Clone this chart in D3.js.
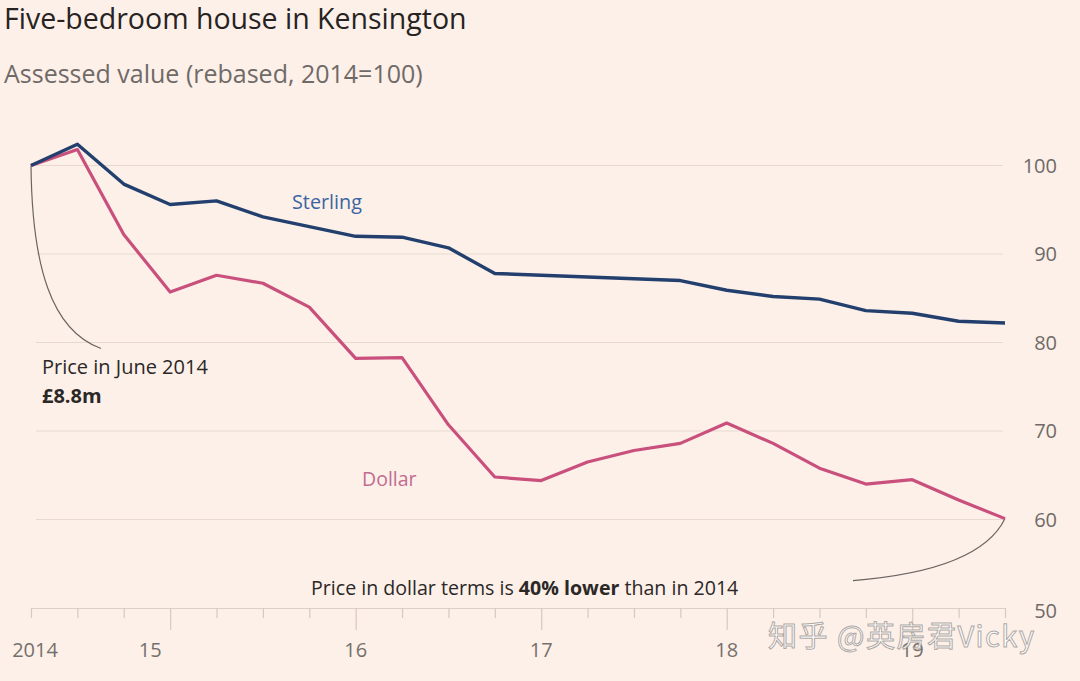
<!DOCTYPE html>
<html>
<head>
<meta charset="utf-8">
<script src="https://cdn.jsdelivr.net/npm/d3@7"></script>
<style>
  html, body { margin: 0; padding: 0; background: #fdf0e9; }
  svg { display: block; font-family: "Open Sans", "Noto Sans", sans-serif; }
</style>
</head>
<body>
<script>
var w = 1080;
var h = 681;

// quarterly assessments, June 2014 onwards
var quarters = ["2014Q2", "2014Q3", "2014Q4", "2015Q1", "2015Q2", "2015Q3", "2015Q4",
    "2016Q1", "2016Q2", "2016Q3", "2016Q4", "2017Q1", "2017Q2", "2017Q3", "2017Q4",
    "2018Q1", "2018Q2", "2018Q3", "2018Q4", "2019Q1", "2019Q2", "2019Q3"];
var sterling = [100, 102.4, 97.9, 95.6, 96.0, 94.2, 93.1, 92.0, 91.9, 90.7, 87.8,
    87.6, 87.4, 87.2, 87.0, 85.9, 85.2, 84.9, 83.6, 83.3, 82.4, 82.2];
var dollar = [100, 101.8, 92.2, 85.7, 87.6, 86.7, 84.0, 78.2, 78.3, 70.7, 64.8,
    64.4, 66.5, 67.8, 68.6, 70.9, 68.6, 65.8, 64.0, 64.5, 62.2, 60.1];
var yTicks = [50, 60, 70, 80, 90, 100];
var yearLabels = ["2014", "15", "16", "17", "18", "19"];
var yearTicks = ["2014Q2", "2015Q1", "2016Q1", "2017Q1", "2018Q1", "2019Q1"];

function qNum(q) {
    return +q.slice(0, 4) + (+q.slice(5) - 1) / 4;
}

var svg = d3.select("body")
    .append("svg")
    .attr("width", w)
    .attr("height", h);

var x = d3.scaleLinear()
    .domain([qNum(quarters[0]), qNum(quarters[quarters.length - 1])])
    .range([31, 1005]);

var y = d3.scaleLinear()
    .domain([50, 100])
    .range([608, 165.5]);

// titles
svg.append("text")
    .attr("x", 4)
    .attr("y", 29)
    .attr("font-size", 28.5)
    .attr("fill", "#262322")
    .text("Five-bedroom house in Kensington");

svg.append("text")
    .attr("x", 4)
    .attr("y", 83)
    .attr("font-size", 25)
    .attr("fill", "#6f6a67")
    .text("Assessed value (rebased, 2014=100)");

// gridlines
svg.selectAll("line.grid")
    .data(yTicks.filter(function (d) { return d > 50; }))
    .enter()
    .append("line")
    .attr("class", "grid")
    .attr("x1", 36)
    .attr("x2", 1003)
    .attr("y1", function (d) { return y(d); })
    .attr("y2", function (d) { return y(d); })
    .attr("stroke", "#e8d9d0")
    .attr("stroke-width", 1.2);

svg.selectAll("text.ylab")
    .data(yTicks)
    .enter()
    .append("text")
    .attr("class", "ylab")
    .attr("x", 1057)
    .attr("y", function (d) { return y(d); })
    .attr("dy", function (d) { return d === 50 ? "0.5em" : "0.36em"; })
    .attr("text-anchor", "end")
    .attr("font-size", 20)
    .attr("fill", "#6f6a67")
    .text(function (d) { return d; });

// bottom axis, one tick per quarter, longer at each year
var xAxis = d3.axisBottom(x)
    .tickValues(quarters.map(qNum))
    .tickSize(10)
    .tickSizeOuter(0)
    .tickFormat("");

var gx = svg.append("g")
    .attr("transform", "translate(0," + y(50) + ")")
    .call(xAxis);

gx.select(".domain").attr("stroke", "#ddd0c7").attr("stroke-width", 1.2);
gx.selectAll(".tick line")
    .attr("stroke", "#d6c9c0")
    .attr("stroke-width", 1.2)
    .attr("y2", function (d) {
        return (d % 1 === 0) ? 22 : 10;
    });

svg.selectAll("text.xlab")
    .data(yearLabels)
    .enter()
    .append("text")
    .attr("class", "xlab")
    .attr("x", function (d, i) {
        var px = x(qNum(yearTicks[i]));
        if (d === "2014") px += 4;
        if (d === "15") px -= 20;
        return px;
    })
    .attr("y", 657)
    .attr("text-anchor", "middle")
    .attr("font-size", 20)
    .attr("fill", "#75706c")
    .text(function (d) { return d; });

// annotation curves
var p0 = [x(qNum(quarters[0])), y(dollar[0])];
var pe = [x(qNum(quarters[quarters.length - 1])), y(dollar[dollar.length - 1])];

svg.append("path")
    .attr("d", "M" + p0[0] + "," + p0[1] + " C" + (p0[0] + 1) + "," + (p0[1] + 100) +
        " " + (p0[0] + 20) + "," + (p0[1] + 165) + " " + (p0[0] + 70) + "," + (p0[1] + 183))
    .attr("fill", "none")
    .attr("stroke", "#6b6562")
    .attr("stroke-width", 1.2);

svg.append("path")
    .attr("d", "M" + pe[0] + "," + pe[1] + " Q" + (pe[0] - 25) + "," + (pe[1] + 52) +
        " " + (pe[0] - 152) + "," + (pe[1] + 62))
    .attr("fill", "none")
    .attr("stroke", "#6b6562")
    .attr("stroke-width", 1.2);

// lines
var line = d3.line()
    .x(function (d, i) { return x(qNum(quarters[i])); })
    .y(function (d) { return y(d); });

svg.append("path")
    .datum(dollar)
    .attr("d", line)
    .attr("fill", "none")
    .attr("stroke", "#c9507d")
    .attr("stroke-width", 3.2)
    .attr("stroke-linejoin", "round");

svg.append("path")
    .datum(sterling)
    .attr("d", line)
    .attr("fill", "none")
    .attr("stroke", "#223f6d")
    .attr("stroke-width", 3.4)
    .attr("stroke-linejoin", "round");

// series labels
svg.append("text")
    .attr("x", 292)
    .attr("y", 209)
    .attr("font-size", 19.8)
    .attr("fill", "#3b65a0")
    .text("Sterling");

svg.append("text")
    .attr("x", 362)
    .attr("y", 486)
    .attr("font-size", 19.5)
    .attr("fill", "#c16c90")
    .text("Dollar");

// annotations
svg.append("text")
    .attr("x", 42)
    .attr("y", 374)
    .attr("font-size", 20)
    .attr("fill", "#2b2826")
    .text("Price in June 2014");

svg.append("text")
    .attr("x", 42)
    .attr("y", 403)
    .attr("font-size", 20)
    .attr("font-weight", "bold")
    .attr("fill", "#2b2826")
    .text("£8.8m");

var note = svg.append("text")
    .attr("x", 311)
    .attr("y", 595)
    .attr("font-size", 19.6)
    .attr("fill", "#2b2826");
note.append("tspan").text("Price in dollar terms is ");
note.append("tspan").attr("font-weight", "bold").text("40% lower");
note.append("tspan").text(" than in 2014");

// watermark
svg.append("text")
    .attr("x", 768)
    .attr("y", 647)
    .attr("font-size", 29)
    .attr("letter-spacing", 1.5)
    .attr("font-family", "'Noto Sans CJK SC', sans-serif")
    .attr("fill", "#ffffff")
    .attr("fill-opacity", 0.85)
    .attr("stroke", "#8a8582")
    .attr("stroke-width", 1)
    .attr("stroke-opacity", 0.7)
    .text("知乎 @英房君Vicky");
</script>
</body>
</html>
